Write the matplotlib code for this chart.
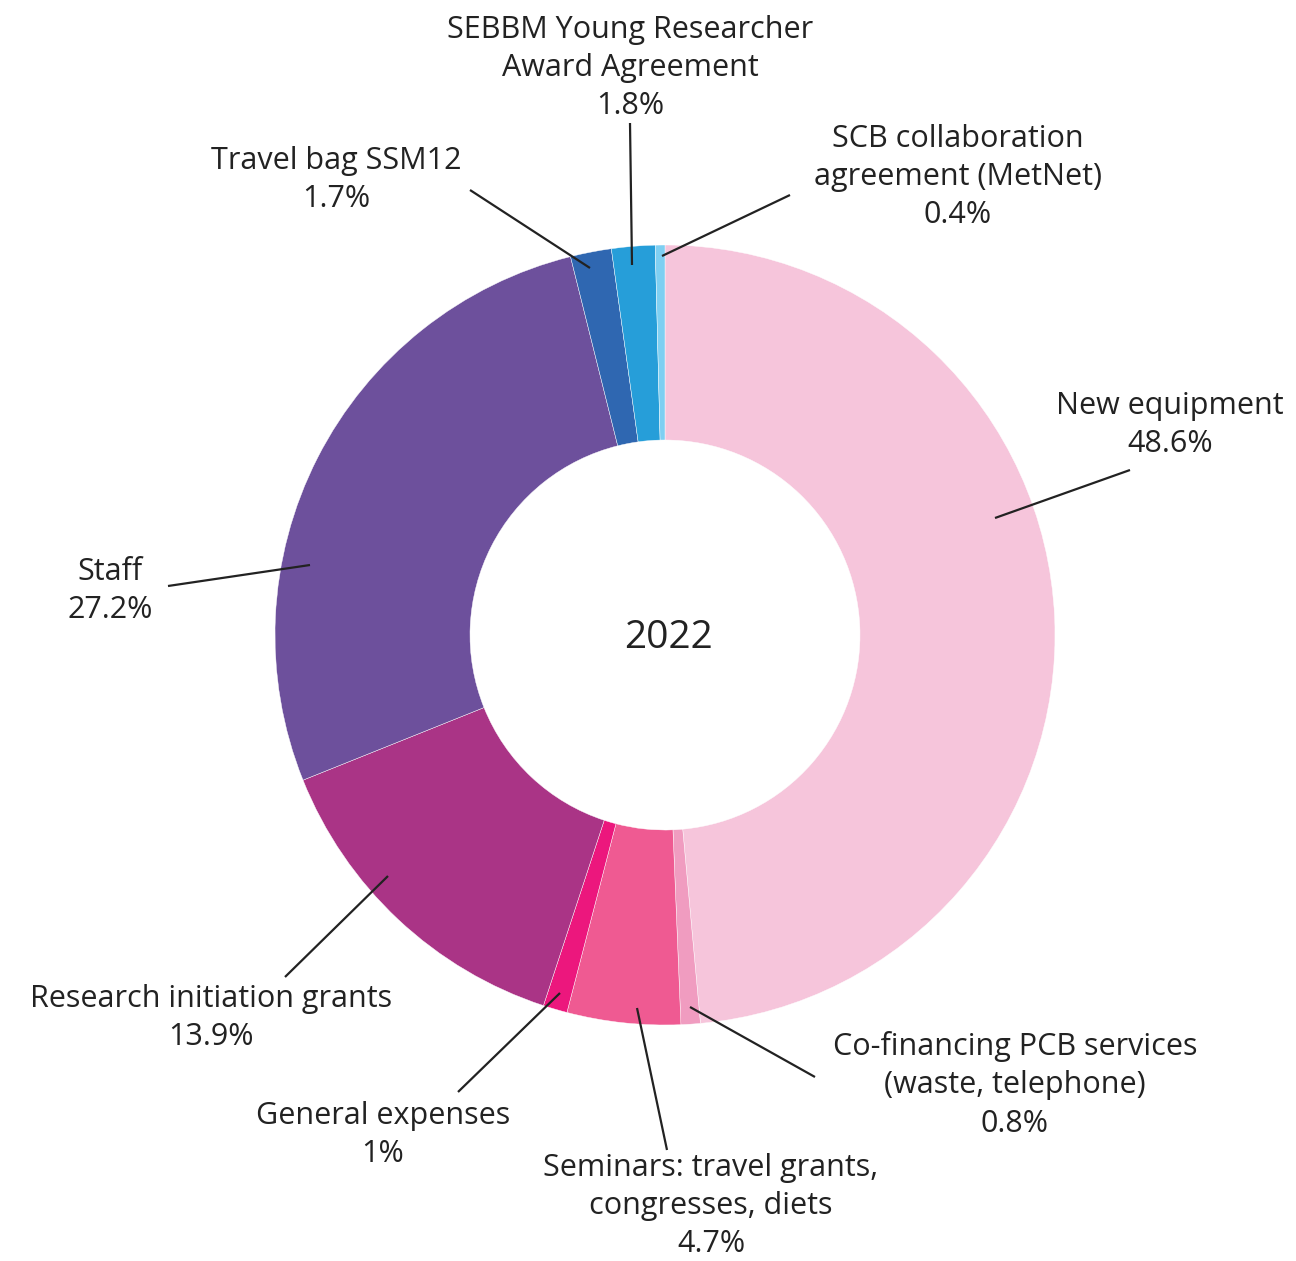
import matplotlib.pyplot as plt

# data
categories = ['New equipment', 'Co-financing PCB services\n(waste, telephone)',
              'Seminars: travel grants,\ncongresses, diets', 'General expenses',
              'Research initiation grants', 'Staff', 'Travel bag SSM12',
              'SEBBM Young Researcher\nAward Agreement',
              'SCB collaboration\nagreement (MetNet)']
values = [48.6, 0.8, 4.7, 1.0, 13.9, 27.2, 1.7, 1.8, 0.4]
pct_labels = ['48.6%', '0.8%', '4.7%', '1%', '13.9%', '27.2%', '1.7%', '1.8%', '0.4%']
colors = ['#f6c5db', '#f09cc0', '#ef5a92', '#ec177d', '#aa3486',
          '#6d509c', '#2f67b1', '#269ed9', '#7ecff2']

H = 1261
fig = plt.figure(figsize=(12.96, 12.61), dpi=100)
ax = fig.add_axes([0, 0, 1, 1])

cx, cy = 665, H - 635
R = 390
ax.pie(values, colors=colors, startangle=90, counterclock=False, radius=R,
       center=(cx, cy), wedgeprops=dict(width=R - 195, linewidth=0.3, edgecolor='white'),
       frame=True)
ax.set_xlim(0, 1296)
ax.set_ylim(0, H)
ax.set_aspect('equal')
ax.axis('off')

ax.text(cx + 3, H - 638, '2022', ha='center', va='center', fontsize=28,
        family='Open Sans', color='#222222')

# label positions (pixel coords from top) and leader lines
label_pos = [(1170, 425), (1015, 1085), (711, 1206), (383, 1135), (211, 1018),
             (110, 591), (336, 180), (630, 68), (958, 177)]
lines = [((995, 518), (1130, 470)), ((690, 1007), (815, 1077)),
         ((637, 1008), (667, 1150)), ((560, 993), (458, 1092)),
         ((388, 876), (285, 977)), ((310, 565), (168, 586)),
         ((590, 268), (470, 190)), ((632, 265), (630, 123)),
         ((662, 256), (790, 195))]

for name, pct, (x, y), (p0, p1) in zip(categories, pct_labels, label_pos, lines):
    ax.text(x, H - y, name + '\n' + pct, ha='center', va='center', fontsize=22,
            family='Open Sans', color='#222222', linespacing=1.35)
    ax.plot([p0[0], p1[0]], [H - p0[1], H - p1[1]], color='#222222', lw=1.6,
            solid_capstyle='butt')

fig.savefig('out.png', dpi=100)
